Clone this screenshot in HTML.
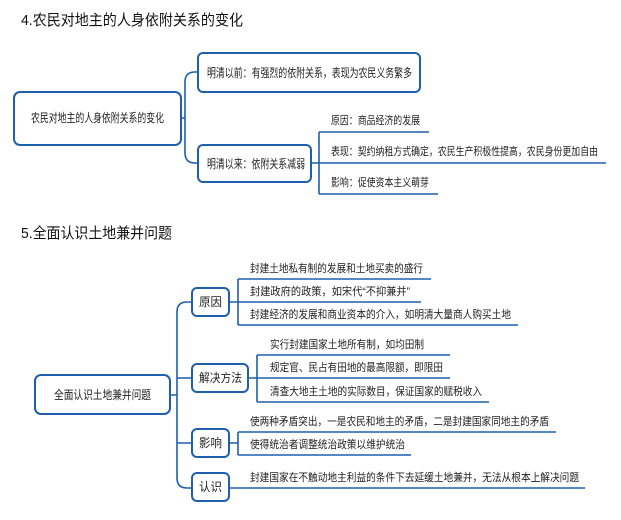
<!DOCTYPE html>
<html><head><meta charset="utf-8"><style>
html,body{margin:0;padding:0;background:#fff;width:621px;height:520px;overflow:hidden}
svg{display:block;font-family:"Liberation Sans","Noto Sans CJK SC",sans-serif}
</style></head><body>
<svg width="621" height="520" viewBox="0 0 621 520">
<g fill="#111">
<text x="21" y="25" font-size="15" textLength="222" lengthAdjust="spacingAndGlyphs">4.农民对地主的人身依附关系的变化</text>
<text x="21" y="238" font-size="15" textLength="151" lengthAdjust="spacingAndGlyphs">5.全面认识土地兼并问题</text>
</g>
<g fill="none" stroke="#1f5fb0" stroke-width="1.6">
<path d="M181 118 H185 M185 82 Q185 72 195 72 H198 M185 82 V153 Q185 163 195 163 H198"/>
<path d="M311 163 H319 M319 132 V194 M319 132 H429 M319 163 H606 M319 194 H438"/>
<path d="M170 395 H177 M177 312 Q177 302 187 302 H192 M177 312 V478 Q177 488 187 488 H192 M177 378 H192 M177 443 H192"/>
<path d="M229 302 H238 M238 279 V325 M238 279 H431 M238 302 H421 M238 325 H518"/>
<path d="M248 378 H257 M257 355 V402 M257 355 H450 M257 378 H450 M257 402 H489"/>
<path d="M229 443 H238 M238 432 V455 M238 432 H556 M238 455 H411"/>
<path d="M229 488 H585"/>
</g>
<g fill="#fff" stroke="#1f5fb0" stroke-width="2">
<rect x="14" y="92" width="167" height="53" rx="6"/>
<rect x="198" y="53" width="222" height="39" rx="5"/>
<rect x="198" y="145" width="113" height="37" rx="5"/>
<rect x="35" y="375" width="135" height="39" rx="6"/>
<rect x="192" y="288" width="37" height="28" rx="5"/>
<rect x="192" y="364" width="56" height="28" rx="5"/>
<rect x="192" y="429" width="37" height="28" rx="5"/>
<rect x="192" y="473" width="37" height="28" rx="5"/>
</g>
<g fill="#222" font-size="12">
<text x="31" y="122" textLength="133" lengthAdjust="spacingAndGlyphs">农民对地主的人身依附关系的变化</text>
<text x="207" y="77" textLength="205" lengthAdjust="spacingAndGlyphs">明清以前：有强烈的依附关系，表现为农民义务繁多</text>
<text x="207" y="168" textLength="98" lengthAdjust="spacingAndGlyphs">明清以来：依附关系减弱</text>
<text x="54" y="399" textLength="97" lengthAdjust="spacingAndGlyphs">全面认识土地兼并问题</text>
<text x="199" y="306" textLength="23" lengthAdjust="spacingAndGlyphs">原因</text>
<text x="199" y="382" textLength="43" lengthAdjust="spacingAndGlyphs">解决方法</text>
<text x="199" y="447" textLength="23" lengthAdjust="spacingAndGlyphs">影响</text>
<text x="199" y="491" textLength="23" lengthAdjust="spacingAndGlyphs">认识</text>
</g>
<g fill="#222" font-size="11">
<text x="331" y="124" textLength="89" lengthAdjust="spacingAndGlyphs">原因：商品经济的发展</text>
<text x="331" y="155" textLength="267" lengthAdjust="spacingAndGlyphs">表现：契约纳租方式确定，农民生产积极性提高，农民身份更加自由</text>
<text x="331" y="186" textLength="98" lengthAdjust="spacingAndGlyphs">影响：促使资本主义萌芽</text>
<text x="250" y="272" textLength="173" lengthAdjust="spacingAndGlyphs">封建土地私有制的发展和土地买卖的盛行</text>
<text x="250" y="295" textLength="160" lengthAdjust="spacingAndGlyphs">封建政府的政策，如宋代“不抑兼并”</text>
<text x="250" y="318" textLength="261" lengthAdjust="spacingAndGlyphs">封建经济的发展和商业资本的介入，如明清大量商人购买土地</text>
<text x="270" y="348" textLength="154" lengthAdjust="spacingAndGlyphs">实行封建国家土地所有制，如均田制</text>
<text x="270" y="371" textLength="173" lengthAdjust="spacingAndGlyphs">规定官、民占有田地的最高限额，即限田</text>
<text x="270" y="395" textLength="212" lengthAdjust="spacingAndGlyphs">清查大地主土地的实际数目，保证国家的赋税收入</text>
<text x="250" y="425" textLength="299" lengthAdjust="spacingAndGlyphs">使两种矛盾突出，一是农民和地主的矛盾，二是封建国家同地主的矛盾</text>
<text x="250" y="448" textLength="155" lengthAdjust="spacingAndGlyphs">使得统治者调整统治政策以维护统治</text>
<text x="250" y="481" textLength="329" lengthAdjust="spacingAndGlyphs">封建国家在不触动地主利益的条件下去延缓土地兼并，无法从根本上解决问题</text>
</g>
</svg>
</body></html>
